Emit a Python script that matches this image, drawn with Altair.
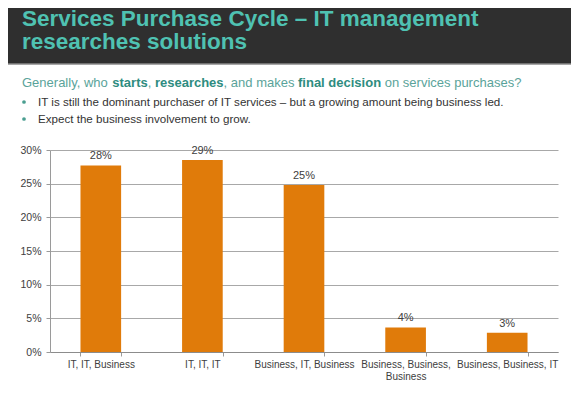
import altair as alt
import pandas as pd

# ---- data ----
categories = ["IT, IT, Business", "IT, IT, IT", "Business, IT, Business",
              "Business, Business, Business", "Business, Business, IT"]
shares = [0.277, 0.285, 0.248, 0.0365, 0.0287]
share_labels = ["28%", "29%", "25%", "4%", "3%"]
y_ticks = [0, 0.05, 0.10, 0.15, 0.20, 0.25, 0.30]

title_lines = ["Services Purchase Cycle – IT management", "researches solutions"]
subtitle_parts = ["Generally, who", "starts", ",", "researches", ", and makes",
                  "final decision", "on services purchases?"]
subtitle_bold = [False, True, False, True, False, True, False]
bullets = ["IT is still the dominant purchaser of IT services – but a growing amount being business led.",
           "Expect the business involvement to grow."]

FONT = "Liberation Sans"
W, H = 508, 202

df = pd.DataFrame({"cat": categories, "share": shares, "lab": share_labels})

xenc = alt.X("cat:N", sort=categories,
             scale=alt.Scale(paddingInner=0.6, paddingOuter=0.3),
             axis=alt.Axis(title=None, labelAngle=0, labelFont=FONT, labelFontSize=10,
                           labelColor="#404040", labelPadding=3, labelLineHeight=12,
                           labelLimit=200, tickBand="extent", tickSize=4, tickColor="#9a9a9a",
                           domainColor="#8c8c8c", grid=False, labelOverlap=False,
                           labelExpr="datum.value == 'Business, Business, Business' ? ['Business, Business,', 'Business'] : datum.label"))
yenc = alt.Y("share:Q", scale=alt.Scale(domain=[0, 0.3], nice=False),
             axis=alt.Axis(title=None, values=y_ticks, format=".0%", labelFont=FONT,
                           labelFontSize=10.5, labelColor="#404040", labelPadding=5,
                           labelOverlap=False,
                           tickSize=4, tickColor="#9a9a9a", domainColor="#9a9a9a",
                           grid=True, gridColor="#a8a8a8", gridWidth=1))

bars = alt.Chart(df).mark_bar(color="#E07B0A").encode(x=xenc, y=yenc, y2=alt.datum(0))
labels = alt.Chart(df).mark_text(font=FONT, fontSize=11, color="#404040", baseline="bottom", dy=-4).encode(
    x=xenc, y=yenc, text="lab:N")


def txt(s, x, y, size, color, weight="normal", align="left"):
    return alt.Chart(pd.DataFrame({"t": [s]})).mark_text(
        font=FONT, fontSize=size, color=color, fontWeight=weight, align=align,
        baseline="alphabetic").encode(x=alt.value(x), y=alt.value(y), text="t:N")


one = pd.DataFrame({"k": [0]})
header = alt.Chart(one).mark_rect(color="#2f2f2f").encode(
    x=alt.value(-42), x2=alt.value(521), y=alt.value(-142), y2=alt.value(-86))
header_edge = alt.Chart(one).mark_rule(color="#8a8a8a", strokeWidth=1.5).encode(
    x=alt.value(-42), x2=alt.value(521), y=alt.value(-86))

layers = [header, header_edge,
          txt(title_lines[0], -28, -124, 22.5, "#4FC2B2", "bold"),
          txt(title_lines[1], -28, -101, 22.5, "#4FC2B2", "bold")]

# subtitle segments, left edges in pixels
seg_x = [-28, 62.3, 97.7, 104.9, 173.6, 248.0, 334.8]
for part, b, sx in zip(subtitle_parts, subtitle_bold, seg_x):
    layers.append(txt(part, sx, -63, 13, "#2E8C80" if b else "#5AA39A", "bold" if b else "normal"))

for i, b in enumerate(bullets):
    yb = -44 + 17 * i
    layers.append(alt.Chart(one).mark_point(filled=True, size=14, color="#4A9E90", opacity=1).encode(
        x=alt.value(-26), y=alt.value(yb - 4)))
    layers.append(txt(b, -12, yb, 11.6, "#333333"))

chart = alt.layer(*layers, bars, labels).properties(
    width=W, height=H, autosize=alt.AutoSizeParams(type="none"),
    padding={"left": 42, "top": 142, "right": 13, "bottom": 34}, background="white"
).configure_view(stroke=None)

chart.save("out.html", embed_options={"renderer": "svg", "actions": False})
